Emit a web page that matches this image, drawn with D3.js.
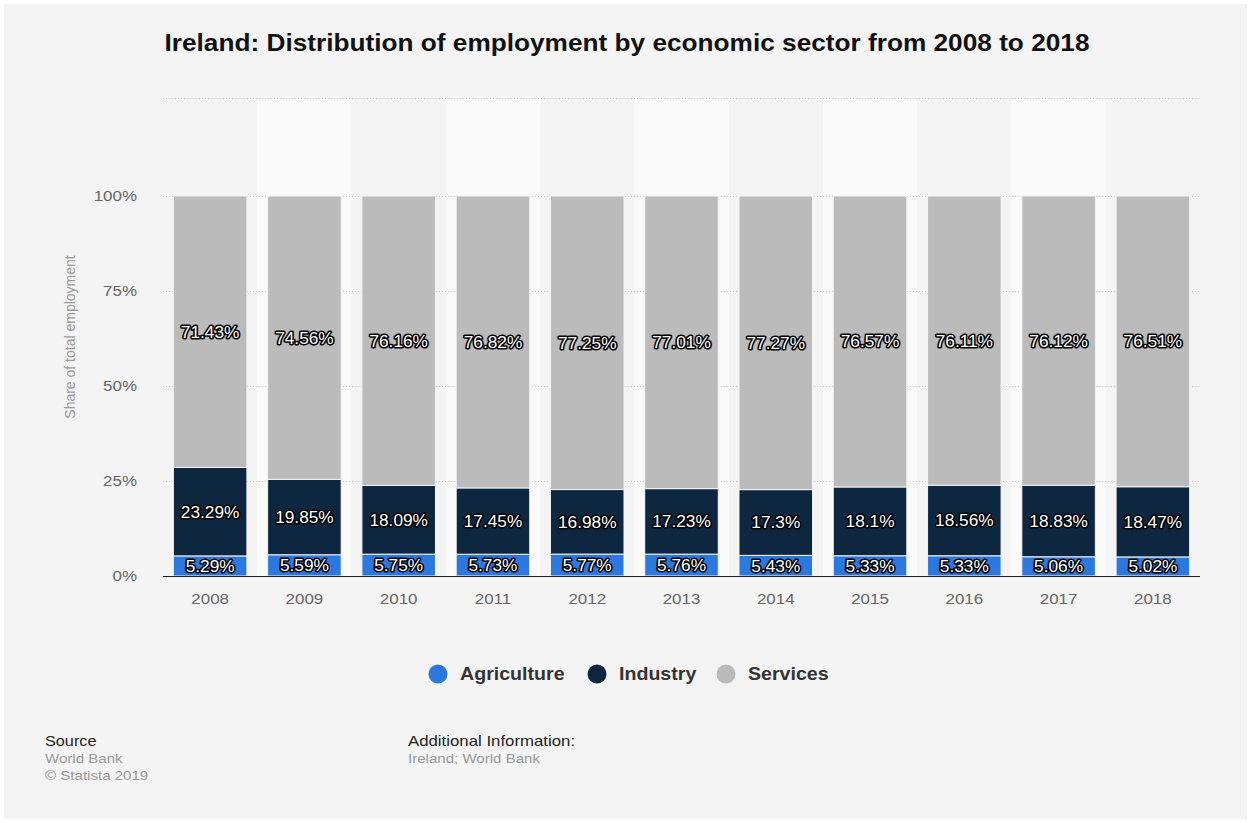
<!DOCTYPE html>
<html>
<head>
<meta charset="utf-8">
<script src="https://cdn.jsdelivr.net/npm/d3@7"></script>
<style>
  body { margin: 0; background: #fff; }
  svg { display: block; font-family: 'Liberation Sans', Arial, sans-serif; }
</style>
</head>
<body>
<div id="chart"></div>
<script>
const years = ['2008', '2009', '2010', '2011', '2012', '2013', '2014', '2015', '2016', '2017', '2018'];
const agriculture = [5.29, 5.59, 5.75, 5.73, 5.77, 5.76, 5.43, 5.33, 5.33, 5.06, 5.02];
const industry = [23.29, 19.85, 18.09, 17.45, 16.98, 17.23, 17.3, 18.1, 18.56, 18.83, 18.47];
const services = [71.43, 74.56, 76.16, 76.82, 77.25, 77.01, 77.27, 76.57, 76.11, 76.12, 76.51];
const seriesNames = ['Agriculture', 'Industry', 'Services'];
const yTicks = [0, 25, 50, 75, 100];

const COLORS = { Agriculture: '#2b78de', Industry: '#0e2740', Services: '#bbbbbb' };
const W = 1251, H = 823;
const PLOT = { LEFT: 163, RIGHT: 1200, TOP: 98, BOTTOM: 576 };

const svg = d3.select('#chart').append('svg')
  .attr('width', W).attr('height', H);

// the reference text looks a bit wide, so stretch text horizontally
function wideText(g, px, py, k, str) {
  return g.append('text')
    .attr('transform', `translate(${px},${py}) scale(${k},1)`)
    .text(str);
}

svg.append('rect')
  .attr('x', 4).attr('y', 4).attr('width', W - 8).attr('height', H - 8)
  .attr('fill', '#f4f4f4');

// title
wideText(svg, 627, 51, 1.14, 'Ireland: Distribution of employment by economic sector from 2008 to 2018')
  .attr('text-anchor', 'middle')
  .attr('font-size', 23).attr('font-weight', 'bold').attr('fill', '#111');

const x = d3.scaleBand()
  .domain(years)
  .range([PLOT.LEFT, PLOT.RIGHT])
  .paddingInner(0.22).paddingOuter(0.11);

// 100% at y=196, 0% at 576
const y = d3.scaleLinear()
  .domain([0, 100])
  .range([PLOT.BOTTOM, 196]);

const step = x.step();
const bandStart = d => x(d) - x.paddingInner() * step / 2;

// alternating column bands
svg.append('g').selectAll('rect')
  .data(years.filter((d, i) => i % 2 === 1))
  .join('rect')
  .attr('x', d => bandStart(d))
  .attr('y', PLOT.TOP)
  .attr('width', step)
  .attr('height', PLOT.BOTTOM - PLOT.TOP)
  .attr('fill', '#fafafa');

// grid
const gridLevels = yTicks.filter(t => t > 0).map(t => y(t)).concat([PLOT.TOP]);
svg.append('g').selectAll('line')
  .data(gridLevels)
  .join('line')
  .attr('x1', PLOT.LEFT).attr('x2', PLOT.RIGHT)
  .attr('y1', d => d + 0.5).attr('y2', d => d + 0.5)
  .attr('stroke', '#c8c8c8').attr('stroke-dasharray', '1,2');

// stacked data
const table = years.map((yr, i) => ({
  year: yr,
  Agriculture: agriculture[i],
  Industry: industry[i],
  Services: services[i]
}));
const stacked = d3.stack().keys(seriesNames)(table);

const layers = svg.append('g').selectAll('g')
  .data(stacked)
  .join('g')
  .attr('fill', d => COLORS[d.key]);

layers.selectAll('rect')
  .data(d => d)
  .join('rect')
  .attr('x', d => x(d.data.year))
  .attr('width', x.bandwidth())
  .attr('y', d => y(d[1]))
  .attr('height', d => y(d[0]) - y(d[1]))
  .attr('stroke', '#f4f4f4').attr('stroke-width', 1);

// value labels
const labels = svg.append('g');
stacked.forEach(layer => {
  layer.forEach(d => {
    const val = d.data[layer.key];
    const cx = x(d.data.year) + x.bandwidth() / 2;
    const cy = (y(d[0]) + y(d[1])) / 2 + 6;
    const txt = val + '%';
    wideText(labels, cx, cy, 1.08, txt)
      .attr('text-anchor', 'middle')
      .attr('font-size', 16)
      .attr('fill', 'none').attr('stroke', '#000').attr('stroke-width', 3)
      .attr('stroke-linejoin', 'round');
    wideText(labels, cx, cy, 1.08, txt)
      .attr('text-anchor', 'middle')
      .attr('font-size', 16)
      .attr('fill', '#fff');
  });
});

// x axis
const xAxis = svg.append('g')
  .attr('transform', `translate(0,${PLOT.BOTTOM})`)
  .call(d3.axisBottom(x).tickSize(0).tickPadding(17));
xAxis.select('.domain')
  .attr('d', `M${PLOT.LEFT},0.5H${PLOT.RIGHT}`)
  .attr('stroke', '#222');
xAxis.selectAll('text')
  .attr('font-size', 15).attr('fill', '#666')
  .attr('transform', 'scale(1.13,1)')
  .attr('font-family', 'Liberation Sans, Arial, sans-serif');

// y axis
const yK = 1.13;
const yAxis = svg.append('g')
  .attr('transform', `translate(${PLOT.LEFT},0)`)
  .call(d3.axisLeft(y).tickValues(yTicks).tickSize(0).tickPadding(26).tickFormat(d => d + '%'));
yAxis.select('.domain').remove();
yAxis.selectAll('text')
  .attr('font-size', 15).attr('fill', '#666')
  .attr('x', -26 / yK)
  .attr('transform', `scale(${yK},1)`)
  .attr('font-family', 'Liberation Sans, Arial, sans-serif');

svg.append('text')
  .attr('transform', `translate(75,${(196 + PLOT.BOTTOM) / 2 - 49}) rotate(-90)`)
  .attr('text-anchor', 'middle')
  .attr('font-size', 14).attr('fill', '#999')
  .text('Share of total employment');

// legend
const legendX = [438, 597, 726];
const legend = svg.append('g').selectAll('g')
  .data(seriesNames)
  .join('g')
  .attr('transform', (d, i) => `translate(${legendX[i]},674)`);
legend.append('circle')
  .attr('r', 9.5)
  .attr('fill', d => COLORS[d]);
legend.append('text')
  .attr('transform', 'translate(22,0) scale(1.09,1)')
  .attr('dy', '0.36em')
  .attr('font-size', 18).attr('font-weight', 'bold').attr('fill', '#333')
  .text(d => d);

// footer
const foot = svg.append('g').attr('font-size', 14);
wideText(foot, 45, 746, 1.16, 'Source').attr('fill', '#222');
wideText(foot, 45, 763, 1.16, 'World Bank').attr('fill', '#999').attr('font-size', 13);
wideText(foot, 45, 780, 1.16, '© Statista 2019').attr('fill', '#999').attr('font-size', 13);
wideText(foot, 408, 746, 1.2, 'Additional Information:').attr('fill', '#222');
wideText(foot, 408, 763, 1.16, 'Ireland; World Bank').attr('fill', '#999').attr('font-size', 13);
</script>
</body>
</html>
